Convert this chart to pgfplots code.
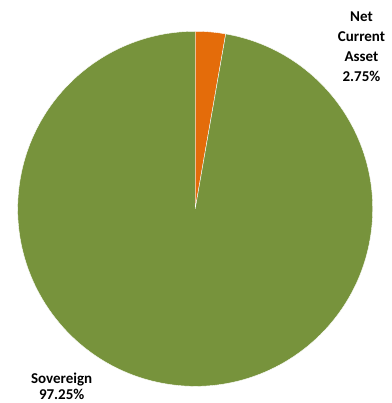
\documentclass[border=0pt]{standalone}
\usepackage{pgfplots}
\pgfplotsset{compat=1.18}
\usepackage{fontspec}
\setmainfont{Carlito}
\definecolor{sov}{HTML}{77933C}
\definecolor{nca}{HTML}{E46C0A}
\begin{document}
\begin{tikzpicture}
\begin{axis}[
  width=391pt, height=403pt, scale only axis,
  xmin=0, xmax=391, ymin=0, ymax=403,
  hide axis, clip=false,
]
\path (axis cs:0,0) rectangle (axis cs:391,403);
% pie data (percent): Net Current Asset 2.75, Sovereign 97.25
\def\cx{195.2}\def\cy{194.2}\def\R{177.5}
\pgfmathsetmacro\aA{90}
\pgfmathsetmacro\aB{90-2.75*3.6}
\pgfmathsetmacro\aC{\aB-97.25*3.6}
\fill[nca, draw=white, line width=0.4pt] (axis cs:\cx,\cy) -- ++(\aA:\R pt) arc[start angle=\aA, end angle=\aB, radius=\R pt] -- cycle;
\fill[sov, draw=white, line width=0.4pt] (axis cs:\cx,\cy) -- ++(\aB:\R pt) arc[start angle=\aB, end angle=\aC, radius=\R pt] -- cycle;
\tikzset{lbl/.style={font=\fontsize{15}{18}\selectfont\bfseries, text=black, anchor=base, inner sep=0pt, overlay}}
\node[lbl] at (axis cs:361.5,381) {Net};
\node[lbl] at (axis cs:361.5,361) {Current};
\node[lbl] at (axis cs:361.5,341) {Asset};
\node[lbl] at (axis cs:361.5,321) {2.75\%};
\node[lbl] at (axis cs:61.7,19.5) {Sovereign};
\node[lbl] at (axis cs:61.7,4) {97.25\%};
\end{axis}
\end{tikzpicture}
\end{document}
